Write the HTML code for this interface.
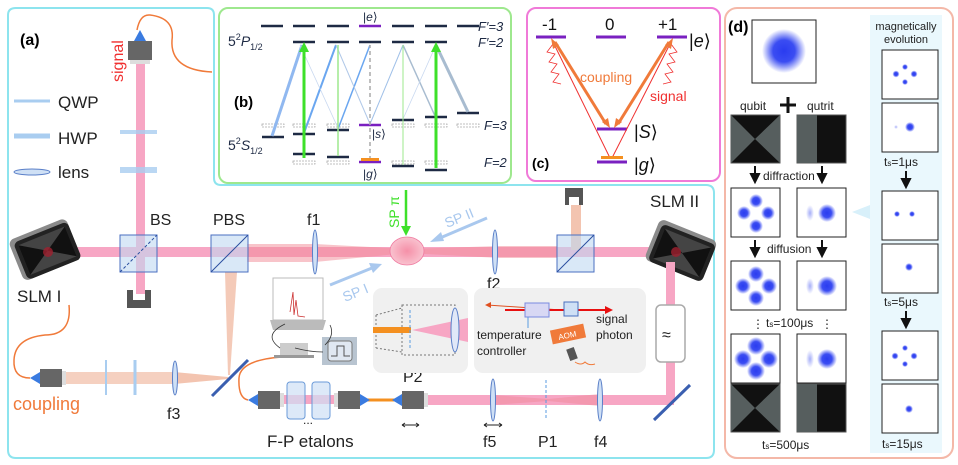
<!DOCTYPE html>
<html><head><meta charset="utf-8"><style>
html,body{margin:0;padding:0;background:#fff}
svg{display:block}
text{font-family:"Liberation Sans",sans-serif}
</style></head><body>
<svg width="958" height="465" viewBox="0 0 958 465" xmlns="http://www.w3.org/2000/svg">
<defs>
<radialGradient id="bl"><stop offset="0" stop-color="#2a3cf0"/><stop offset="0.5" stop-color="#3b4df2"/><stop offset="1" stop-color="#3b4df2" stop-opacity="0"/></radialGradient>
<radialGradient id="bf"><stop offset="0" stop-color="#6a78f4" stop-opacity="0.6"/><stop offset="1" stop-color="#6a78f4" stop-opacity="0"/></radialGradient>
<radialGradient id="atom"><stop offset="0" stop-color="#f590a8"/><stop offset="1" stop-color="#f9c2cf"/></radialGradient>
<g id="coll"><rect x="0" y="-9" width="22" height="18" fill="#666"/><rect x="22" y="-7" width="4" height="14" fill="#ddd"/><path d="M0,-6 L-10,0 L0,6 Z" fill="#3a7be0"/></g>
<g id="slm"><rect x="-30" y="-22" width="62" height="44" rx="6" fill="#8a8a8a"/><rect x="-26" y="-18" width="58" height="40" rx="5" fill="#222"/><rect x="-22" y="-14" width="50" height="32" fill="#444"/><path d="M-22,-14 L3,2 L-22,18Z M28,-14 L3,2 L28,18Z" fill="#111"/></g>
</defs>

<!-- (a) cyan outline -->
<path d="M16,8 H207 Q214,8 214,15 V178 Q214,185 221,185 H706 Q714,185 714,193 V450 Q714,458 706,458 H16 Q8,458 8,450 V15 Q8,8 16,8 Z" fill="none" stroke="#8de4ee" stroke-width="2"/>
<text x="20" y="45" font-family="Liberation Serif" font-weight="bold" font-size="16">(a)</text>

<!-- legend -->
<line x1="14" y1="101" x2="50" y2="101" stroke="#a9cdf0" stroke-width="3"/>
<text x="58" y="108" font-size="17" fill="#222">QWP</text>
<line x1="14" y1="136" x2="50" y2="136" stroke="#a9cdf0" stroke-width="5"/>
<text x="58" y="144" font-size="17" fill="#222">HWP</text>
<ellipse cx="32" cy="172" rx="18" ry="3" fill="#cfe0f5" stroke="#5a7fc8"/>
<text x="58" y="178" font-size="17" fill="#222">lens</text>

<!-- signal fiber & vertical beam -->
<path d="M137,30 Q140,14 150,15 Q175,18 172,40 Q170,70 212,72" fill="none" stroke="#f07a3a" stroke-width="1.5"/>
<rect x="136" y="62" width="9" height="232" fill="#f7a6c4"/>
<rect x="128" y="41" width="24" height="19" fill="#666"/><rect x="130" y="60" width="20" height="4" fill="#ddd"/>
<path d="M134,41 L140,30 L146,41 Z" fill="#3a7be0"/>
<text transform="translate(123,82) rotate(-90)" font-size="16" fill="#f03030">signal</text>
<rect x="120" y="130" width="37" height="4" fill="#a9cdf0" opacity="0.8"/>
<rect x="120" y="167" width="37" height="6" fill="#a9cdf0" opacity="0.8"/>
<path d="M127,290 h6 v10 h12 v-10 h6 v18 h-24 z" fill="#555"/>

<!-- main horizontal beam -->
<rect x="40" y="247" width="630" height="10" fill="#f7a6c4"/>
<path d="M247,244 L315,244 L407,249 L500,246 L557,246 L557,258 L500,258 L407,253 L315,262 L247,262Z" fill="#f28a96" opacity="0.5"/>
<path d="M225,272 L237,272 L230,375 L228,375 Z" fill="#f3c4b0" opacity="0.9"/>
<rect x="571" y="205" width="10" height="45" fill="#f3c4b0"/>
<path d="M565,188 h18 v17 h-4 v-8 h-10 v8 h-4z" fill="#555"/>

<!-- SLMs -->
<g transform="translate(44,250) rotate(-22)"><use href="#slm"/></g>
<circle cx="48" cy="252" r="5" fill="#a02030" opacity="0.8"/>
<text x="17" y="302" font-size="17" fill="#222">SLM I</text>
<g transform="translate(680,250) rotate(22)"><use href="#slm"/></g>
<circle cx="676" cy="252" r="5" fill="#a02030" opacity="0.8"/>
<text x="650" y="207" font-size="17" fill="#222">SLM II</text>

<!-- cubes -->
<rect x="120" y="235" width="37" height="37" fill="#bfd8f2" fill-opacity="0.6" stroke="#4a6fc0"/><line x1="120" y1="272" x2="157" y2="235" stroke="#2a4fa0" stroke-dasharray="3,2"/>
<text x="150" y="225" font-size="16" fill="#222">BS</text>
<rect x="211" y="235" width="37" height="37" fill="#bfd8f2" fill-opacity="0.6" stroke="#4a6fc0"/><line x1="211" y1="272" x2="248" y2="235" stroke="#2a4fa0"/>
<text x="213" y="225" font-size="16" fill="#222">PBS</text>
<rect x="557" y="235" width="37" height="37" fill="#bfd8f2" fill-opacity="0.6" stroke="#4a6fc0"/><line x1="557" y1="272" x2="594" y2="235" stroke="#2a4fa0"/>

<!-- lenses -->
<ellipse cx="315" cy="252" rx="2.5" ry="22" fill="#cfe0f5" stroke="#5a7fc8"/>
<text x="307" y="225" font-size="16" fill="#222">f1</text>
<ellipse cx="495" cy="252" rx="2.5" ry="22" fill="#cfe0f5" stroke="#5a7fc8"/>
<text x="487" y="289" font-size="16" fill="#222">f2</text>

<!-- atom -->
<ellipse cx="407" cy="251" rx="17" ry="14" fill="url(#atom)" stroke="#f07aa0" stroke-width="0.8"/>
<line x1="406" y1="190" x2="406" y2="228" stroke="#3ee02a" stroke-width="2.5"/><path d="M401,226 L406,236 L411,226Z" fill="#3ee02a"/>
<text transform="translate(399,228) rotate(-90)" font-size="14" fill="#3ee02a">SP π</text>
<line x1="487" y1="218" x2="440" y2="238" stroke="#a9c8ee" stroke-width="3"/><path d="M430,242 L441,232 L444,241Z" fill="#a9c8ee"/>
<text transform="translate(447,228) rotate(-22)" font-size="14" fill="#a9c8ee">SP II</text>
<line x1="330" y1="285" x2="372" y2="268" stroke="#a9c8ee" stroke-width="3"/><path d="M382,264 L369,263 L373,273Z" fill="#a9c8ee"/>
<text transform="translate(345,302) rotate(-22)" font-size="14" fill="#a9c8ee">SP I</text>

<!-- right vertical beam and bottom beam -->
<rect x="666" y="262" width="9" height="140" fill="#f7a6c4"/>
<rect x="420" y="395" width="254" height="10" fill="#f7a6c4"/>
<path d="M492,395 L548,399 L548,401 L492,405Z M548,399 L600,394 L600,406 L548,401Z" fill="#f08a9a" opacity="0.5"/>
<line x1="654" y1="420" x2="690" y2="385" stroke="#3a5fb0" stroke-width="3"/>
<rect x="656" y="305" width="29" height="57" rx="5" fill="#fff" stroke="#aaa" stroke-width="1.5"/>
<text x="662" y="340" font-size="16" fill="#222">≈</text>
<ellipse cx="600" cy="400" rx="2.5" ry="21" fill="#cfe0f5" stroke="#5a7fc8"/>
<line x1="546" y1="380" x2="546" y2="420" stroke="#5a9be0" stroke-dasharray="3,2"/>
<ellipse cx="493" cy="400" rx="2.5" ry="21" fill="#cfe0f5" stroke="#5a7fc8"/>
<text x="594" y="447" font-size="16" fill="#222">f4</text>
<text x="538" y="447" font-size="16" fill="#222">P1</text>
<text x="483" y="447" font-size="16" fill="#222">f5</text>
<text x="403" y="382" font-size="16" fill="#222">P2</text>
<path d="M484,425 h18 M484,425 l3,-2 M484,425 l3,2 M502,425 l-3,-2 M502,425 l-3,2 M402,425 h17 M402,425 l3,-2 M402,425 l3,2 M419,425 l-3,-2 M419,425 l-3,2" stroke="#222" stroke-width="1"/>

<!-- etalons -->
<rect x="270" y="395" width="70" height="9" fill="#f7a6c4"/>
<line x1="360" y1="400" x2="395" y2="400" stroke="#f49020" stroke-width="3"/>
<g transform="translate(258,400)"><use href="#coll"/></g>
<rect x="287" y="382" width="18" height="37" rx="3" fill="#cfe0f5" fill-opacity="0.7" stroke="#6a9ad8"/>
<rect x="312" y="382" width="18" height="37" rx="3" fill="#cfe0f5" fill-opacity="0.7" stroke="#6a9ad8"/>
<g transform="translate(360,400) scale(-1,1)"><use href="#coll"/></g>
<g transform="translate(402,400)"><use href="#coll"/></g>
<text x="303" y="424" font-size="12" fill="#222">...</text>
<text x="267" y="447" font-size="17" fill="#222">F-P etalons</text>
<path d="M248,400 Q238,398 239,378 Q240,360 282,357" fill="none" stroke="#f07a3a" stroke-width="1.5"/>

<!-- coupling path -->
<path d="M69,305 Q72,335 45,335 Q15,338 14,360 Q13,378 30,378" fill="none" stroke="#f07a3a" stroke-width="1.5"/>
<rect x="62" y="372" width="112" height="12" fill="#f3c4b0" opacity="0.8"/>
<path d="M174,372 L228,377 L228,379 L174,384Z" fill="#f3c4b0"/>
<g transform="translate(40,378)"><use href="#coll"/></g>
<line x1="106" y1="360" x2="106" y2="395" stroke="#a9cdf0" stroke-width="2"/>
<line x1="135" y1="360" x2="135" y2="395" stroke="#a9cdf0" stroke-width="3"/>
<ellipse cx="175" cy="378" rx="2.5" ry="17" fill="#cfe0f5" stroke="#5a7fc8"/>
<text x="167" y="419" font-size="16" fill="#222">f3</text>
<line x1="212" y1="396" x2="248" y2="360" stroke="#3a5fb0" stroke-width="3"/>
<text x="13" y="410" font-size="18" fill="#f07a3a">coupling</text>

<!-- laptop -->
<rect x="273" y="278" width="50" height="42" fill="#fff" stroke="#bbb"/>
<path d="M290,312 L293,292 L294,315 L296,300 L298,316 L305,317" stroke="#c33" fill="none" stroke-width="0.8"/>
<path d="M270,320 h56 l-3,10 h-50z" fill="#bbb"/>
<rect x="280" y="343" width="28" height="12" fill="#ccc"/><rect x="274" y="355" width="40" height="3" fill="#999"/>
<rect x="322" y="337" width="35" height="28" fill="#b8c4d0"/><rect x="328" y="341" width="24" height="20" rx="3" fill="#e0e8f2" stroke="#777"/>
<path d="M331,356 h6 v-10 h7 v10 h6" fill="none" stroke="#555"/>
<path d="M285,324 Q262,335 280,348 M330,325 Q335,335 325,345 M295,348 Q310,352 323,352" fill="none" stroke="#333" stroke-width="0.8"/>

<!-- insets -->
<rect x="373" y="288" width="95" height="85" rx="9" fill="#f0f0f0"/>
<rect x="402" y="305" width="53" height="50" fill="none" stroke="#777" stroke-dasharray="2,2"/>
<path d="M376,315 L402,308 M376,348 L402,352 M376,315 V348" fill="none" stroke="#777" stroke-dasharray="2,2"/>
<rect x="373" y="327" width="38" height="6" fill="#f49020"/>
<path d="M412,330 L468,318 L468,342Z" fill="#f7a6c4"/>
<line x1="410" y1="310" x2="410" y2="350" stroke="#5a9be0" stroke-dasharray="3,2"/>
<ellipse cx="455" cy="330" rx="4" ry="22" fill="#e0e8f8" stroke="#5a7fc8"/>
<rect x="474" y="288" width="172" height="85" rx="9" fill="#f0f0f0"/>
<line x1="487" y1="305" x2="576" y2="311" stroke="#e05020" stroke-width="1"/><path d="M485,305 l6,-3 v6z" fill="#e05020"/>
<line x1="505" y1="310" x2="605" y2="310" stroke="#e81010" stroke-width="2"/><path d="M613,310 l-8,-4 v8z" fill="#e81010"/>
<rect x="525" y="303" width="24" height="14" fill="#d8d8f4" stroke="#7a8ae0"/>
<rect x="564" y="302" width="14" height="14" fill="#cfe0f5" stroke="#4a6fc0"/>
<line x1="528" y1="317" x2="528" y2="328" stroke="#5a9be0"/>
<rect x="551" y="327" width="34" height="14" fill="#f07a3a" transform="rotate(-12 568 334)"/>
<text x="558" y="338" font-size="8" fill="#fff" transform="rotate(-12 568 334)">AOM</text>
<rect x="568" y="348" width="8" height="12" fill="#555" transform="rotate(-20 572 354)"/>
<path d="M575,362 q6,4 10,0 q4,4 10,2" fill="none" stroke="#f07a3a"/>
<text x="477" y="339" font-size="12" fill="#222">temperature</text>
<text x="477" y="355" font-size="12" fill="#222">controller</text>
<text x="596" y="323" font-size="12" fill="#222">signal</text>
<text x="596" y="339" font-size="12" fill="#222">photon</text>

<!-- (b) -->
<rect x="219" y="8" width="292" height="175" rx="9" fill="#fff" stroke="#9ee88e" stroke-width="2"/>
<g stroke="#1e2a44" stroke-width="2.5">
<line x1="261" y1="26" x2="283" y2="26"/><line x1="293" y1="26" x2="315" y2="26"/><line x1="327" y1="26" x2="349" y2="26"/>
<line x1="392" y1="26" x2="414" y2="26"/><line x1="425" y1="26" x2="447" y2="26"/><line x1="457" y1="26" x2="479" y2="26"/>
<line x1="293" y1="42" x2="315" y2="42"/><line x1="327" y1="42" x2="349" y2="42"/><line x1="359" y1="42" x2="381" y2="42"/><line x1="392" y1="42" x2="414" y2="42"/><line x1="425" y1="42" x2="447" y2="42"/>
<line x1="262" y1="137" x2="284" y2="137"/><line x1="293" y1="134" x2="315" y2="134"/><line x1="327" y1="130" x2="349" y2="130"/><line x1="392" y1="120" x2="414" y2="120"/><line x1="425" y1="117" x2="447" y2="117"/><line x1="457" y1="113" x2="479" y2="113"/>
<line x1="293" y1="154" x2="315" y2="154"/><line x1="327" y1="157" x2="349" y2="157"/><line x1="392" y1="166" x2="414" y2="166"/><line x1="425" y1="170" x2="447" y2="170"/>
</g>
<line x1="359" y1="26" x2="381" y2="26" stroke="#7a20c0" stroke-width="2.5"/>
<line x1="359" y1="125" x2="381" y2="125" stroke="#7a20c0" stroke-width="2.5"/>
<line x1="359" y1="162" x2="381" y2="162" stroke="#7a20c0" stroke-width="2.5"/>
<g stroke="#aaa" stroke-width="0.8" stroke-dasharray="2,1" fill="none">
<rect x="262" y="124" width="22" height="3"/><rect x="293" y="124" width="22" height="3"/><rect x="327" y="124" width="22" height="3"/><rect x="392" y="124" width="22" height="3"/><rect x="425" y="124" width="22" height="3"/><rect x="457" y="124" width="22" height="3"/>
<rect x="293" y="161" width="22" height="3"/><rect x="327" y="161" width="22" height="3"/><rect x="392" y="161" width="22" height="3"/><rect x="425" y="161" width="22" height="3"/>
</g>
<g fill="none">
<line x1="272" y1="136" x2="302" y2="45" stroke="#90b8f0" stroke-width="3"/>
<line x1="304" y1="133" x2="336" y2="45" stroke="#6aa6f0" stroke-width="2"/>
<line x1="338" y1="129" x2="370" y2="45" stroke="#6aa6f0" stroke-width="1.5"/>
<line x1="300" y1="45" x2="338" y2="128" stroke="#c8d8f0" stroke-width="0.8"/>
<line x1="336" y1="45" x2="370" y2="124" stroke="#b0c8e8" stroke-width="1"/>
<line x1="403" y1="45" x2="370" y2="124" stroke="#a0c0e8" stroke-width="1"/>
<line x1="403" y1="45" x2="435" y2="116" stroke="#a8bcd0" stroke-width="1.5"/>
<line x1="403" y1="119" x2="436" y2="45" stroke="#c8d8f0" stroke-width="0.8"/>
<line x1="436" y1="45" x2="468" y2="112" stroke="#a8bcd0" stroke-width="3"/>
<line x1="304" y1="158" x2="304" y2="45" stroke="#3ee02a" stroke-width="3"/>
<line x1="338" y1="156" x2="338" y2="45" stroke="#9ee88e" stroke-width="1.5"/>
<line x1="403" y1="165" x2="403" y2="45" stroke="#9ee88e" stroke-width="1"/>
<line x1="436" y1="168" x2="436" y2="45" stroke="#3ee02a" stroke-width="3"/>
<line x1="370" y1="160" x2="370" y2="45" stroke="#aaa" stroke-width="1.5" stroke-dasharray="4,3"/>
</g>
<path d="M299,52 L304,42 L309,52Z M431,52 L436,42 L441,52Z" fill="#3ee02a"/>
<rect x="361" y="158" width="18" height="3" fill="#f49020"/>
<text x="228" y="46" font-size="14" fill="#1e2a44">5<tspan dy="-6" font-size="9">2</tspan><tspan dy="6" font-style="italic">P</tspan><tspan dy="4" font-size="9">1/2</tspan></text>
<text x="228" y="150" font-size="14" fill="#1e2a44">5<tspan dy="-6" font-size="9">2</tspan><tspan dy="6" font-style="italic">S</tspan><tspan dy="4" font-size="9">1/2</tspan></text>
<text x="234" y="107" font-family="Liberation Serif" font-weight="bold" font-size="15">(b)</text>
<text x="478" y="31" font-size="13" font-style="italic" fill="#1e2a44">F′=3</text>
<text x="478" y="47" font-size="13" font-style="italic" fill="#1e2a44">F′=2</text>
<text x="484" y="130" font-size="13" font-style="italic" fill="#1e2a44">F=3</text>
<text x="484" y="167" font-size="13" font-style="italic" fill="#1e2a44">F=2</text>
<text x="363" y="21" font-size="12" fill="#1e2a44">|<tspan font-style="italic">e</tspan>⟩</text>
<text x="372" y="138" font-size="12" fill="#1e2a44">|<tspan font-style="italic">s</tspan>⟩</text>
<text x="363" y="178" font-size="12" fill="#1e2a44">|<tspan font-style="italic">g</tspan>⟩</text>

<!-- (c) -->
<rect x="527" y="8" width="193" height="173" rx="9" fill="#fff" stroke="#f07ad8" stroke-width="2"/>
<g stroke="#7a20c0" stroke-width="3"><line x1="536" y1="37" x2="566" y2="37"/><line x1="596" y1="37" x2="626" y2="37"/><line x1="657" y1="37" x2="687" y2="37"/><line x1="597" y1="129" x2="627" y2="129"/><line x1="597" y1="162" x2="627" y2="162"/></g>
<text x="542" y="30" font-size="17" fill="#111">-1</text><text x="605" y="30" font-size="17" fill="#111">0</text><text x="658" y="30" font-size="17" fill="#111">+1</text>
<text x="689" y="47" font-size="18" fill="#111">|<tspan font-style="italic">e</tspan>⟩</text>
<text x="634" y="138" font-size="18" fill="#111">|<tspan font-style="italic">S</tspan>⟩</text>
<text x="634" y="171" font-size="18" fill="#111">|<tspan font-style="italic">g</tspan>⟩</text>
<text x="532" y="168" font-family="Liberation Serif" font-weight="bold" font-size="14">(c)</text>
<line x1="552" y1="40" x2="610" y2="158" stroke="#f03030" stroke-width="1"/>
<line x1="672" y1="40" x2="612" y2="158" stroke="#f03030" stroke-width="1"/>
<path d="M553,44 l-6,8 l8,2 l-6,8 l8,2 l-6,8 l8,2 l-6,8 l8,2" fill="none" stroke="#f03030" stroke-width="0.8"/>
<path d="M671,44 l6,8 l-8,2 l6,8 l-8,2 l6,8 l-8,2 l6,8 l-8,2" fill="none" stroke="#f03030" stroke-width="0.8"/>
<line x1="555" y1="42" x2="606" y2="124" stroke="#f07a3a" stroke-width="3"/>
<line x1="669" y1="42" x2="618" y2="124" stroke="#f07a3a" stroke-width="3"/>
<path d="M551,38 l2,11 l6,-4z M610,128 l-8,-6 l6,-4z M673,38 l-2,11 l-6,-4z M614,128 l8,-6 l-6,-4z" fill="#f07a3a"/>
<rect x="601" y="156" width="22" height="3" fill="#f49020"/>
<text x="580" y="82" font-size="14" fill="#f07a3a">coupling</text>
<text x="650" y="101" font-size="14" fill="#f03030">signal</text>

<!-- (d) -->
<rect x="725" y="8" width="228" height="450" rx="12" fill="#fff" stroke="#f4b8a8" stroke-width="2"/>
<rect x="870" y="15" width="72" height="438" fill="#eaf8fd"/>
<path d="M870,205 L852,212 L870,219Z" fill="#d8f0fa"/>
<text x="728" y="32" font-family="Liberation Serif" font-weight="bold" font-size="16">(d)</text>
<rect x="752" y="20" width="64" height="63" fill="#fff" stroke="#222"/>
<circle cx="784" cy="51" r="22" fill="url(#bl)"/>
<text x="740" y="110" font-size="12" fill="#222">qubit</text><text x="807" y="110" font-size="12" fill="#222">qutrit</text>
<path d="M780,105 h16 M788,97 v16" stroke="#111" stroke-width="3"/>
<g>
<rect x="731" y="115" width="49" height="48" fill="#111" stroke="#555"/><path d="M731,115 L755,139 L731,163Z M780,115 L755,139 L780,163Z" fill="#565e5e"/>
<rect x="797" y="115" width="49" height="48" fill="#111" stroke="#555"/><rect x="797" y="115" width="20" height="48" fill="#565e5e"/>
<rect x="731" y="384" width="49" height="48" fill="#111" stroke="#555"/><path d="M731,384 L755,408 L731,432Z M780,384 L755,408 L780,432Z" fill="#565e5e"/>
<rect x="797" y="384" width="49" height="48" fill="#111" stroke="#555"/><rect x="797" y="384" width="20" height="48" fill="#565e5e"/>
</g>
<g stroke="#222" fill="#fff">
<rect x="731" y="188" width="49" height="49"/><rect x="797" y="188" width="49" height="49"/>
<rect x="731" y="261" width="49" height="49"/><rect x="797" y="261" width="49" height="49"/>
<rect x="731" y="334" width="49" height="49"/><rect x="797" y="334" width="49" height="49"/>
</g>
<g fill="url(#bl)">
<circle cx="756" cy="201" r="7"/><circle cx="756" cy="226" r="7"/><circle cx="744" cy="213" r="7"/><circle cx="768" cy="213" r="7"/>
<circle cx="756" cy="274" r="8"/><circle cx="756" cy="298" r="8"/><circle cx="743" cy="286" r="8"/><circle cx="769" cy="286" r="8"/>
<circle cx="756" cy="346" r="9"/><circle cx="756" cy="371" r="9"/><circle cx="743" cy="359" r="9"/><circle cx="769" cy="359" r="9"/>
<circle cx="827" cy="213" r="9"/><circle cx="827" cy="286" r="10"/><circle cx="827" cy="359" r="10"/>
</g>
<g fill="url(#bf)"><ellipse cx="810" cy="213" rx="4" ry="8"/><ellipse cx="810" cy="286" rx="4" ry="8"/><ellipse cx="810" cy="359" rx="4" ry="9"/></g>
<path d="M755,166 v12 M751,174 l4,8 l4,-8z M822,166 v12 M818,174 l4,8 l4,-8z M755,240 v10 M751,248 l4,8 l4,-8z M822,240 v10 M818,248 l4,8 l4,-8z" stroke="#111" stroke-width="2" fill="#111"/>
<text x="763" y="180" font-size="12" fill="#222">diffraction</text>
<text x="767" y="253" font-size="12" fill="#222">diffusion</text>
<text x="752" y="328" font-size="12" fill="#222">⋮</text><text x="821" y="328" font-size="12" fill="#222">⋮</text>
<text x="766" y="327" font-size="12" fill="#222">t<tspan font-size="8">s</tspan>=100μs</text>
<text x="762" y="449" font-size="12" fill="#222">t<tspan font-size="8">s</tspan>=500μs</text>
<text x="906" y="30" font-size="11" fill="#222" text-anchor="middle">magnetically</text>
<text x="906" y="43" font-size="11" fill="#222" text-anchor="middle">evolution</text>
<g stroke="#222" fill="#fff">
<rect x="882" y="50" width="56" height="49"/><rect x="882" y="103" width="56" height="49"/>
<rect x="882" y="191" width="56" height="49"/><rect x="882" y="244" width="56" height="49"/>
<rect x="882" y="331" width="56" height="49"/><rect x="882" y="384" width="56" height="49"/>
</g>
<g fill="url(#bl)">
<circle cx="905" cy="67" r="3"/><circle cx="905" cy="82" r="3"/><circle cx="896" cy="74" r="3.5"/><circle cx="914" cy="74" r="3.5"/>
<circle cx="910" cy="127" r="5"/>
<circle cx="897" cy="214" r="3"/><circle cx="912" cy="214" r="3"/>
<circle cx="909" cy="267" r="4"/>
<circle cx="905" cy="348" r="3"/><circle cx="905" cy="364" r="3"/><circle cx="895" cy="356" r="3.5"/><circle cx="914" cy="356" r="3.5"/>
<circle cx="909" cy="409" r="4"/>
</g>
<circle cx="896" cy="127" r="2" fill="url(#bf)"/>
<text x="884" y="166" font-size="12" fill="#222">t<tspan font-size="8">s</tspan>=1μs</text>
<text x="884" y="306" font-size="12" fill="#222">t<tspan font-size="8">s</tspan>=5μs</text>
<text x="882" y="448" font-size="12" fill="#222">t<tspan font-size="8">s</tspan>=15μs</text>
<path d="M906,171 v10 M902,179 l4,8 l4,-8z M906,311 v10 M902,319 l4,8 l4,-8z" stroke="#111" stroke-width="2" fill="#111"/>
</svg>
</body></html>
